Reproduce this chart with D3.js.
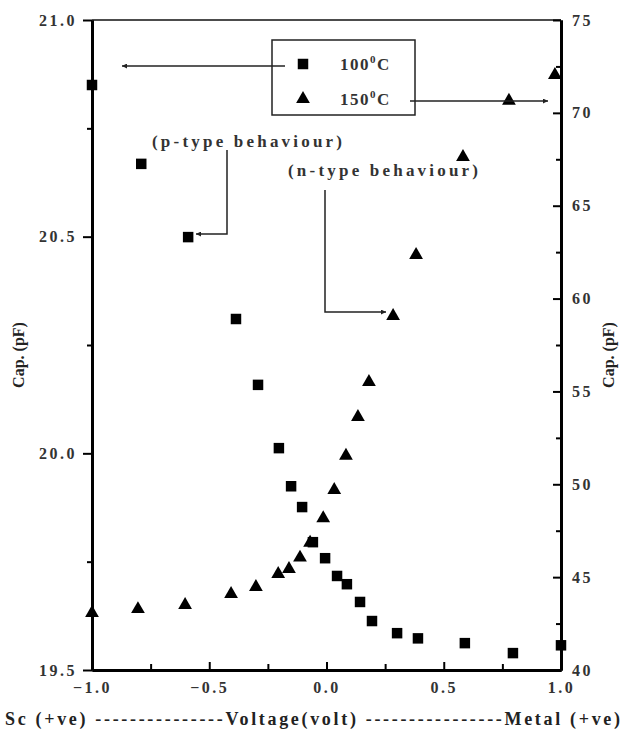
<!DOCTYPE html>
<html>
<head>
<meta charset="utf-8">
<script src="https://cdn.jsdelivr.net/npm/d3@7"></script>
<style>
  body { margin: 0; background: #fff; }
  svg text { font-family: "Liberation Serif", "DejaVu Serif", serif !important; font-weight: bold; }
</style>
</head>
<body>
<div id="chart"></div>
<script>
// 100 C series, read against the left axis
const voltage100 = [-1.0, -0.79, -0.59, -0.386, -0.292, -0.203, -0.151, -0.104, -0.058, -0.006, 0.045, 0.087, 0.143, 0.194, 0.301, 0.39, 0.59, 0.795, 1.0]
const cap100 = [20.85, 20.668, 20.499, 20.31, 20.158, 20.012, 19.924, 19.876, 19.795, 19.758, 19.717, 19.698, 19.657, 19.613, 19.585, 19.573, 19.562, 19.539, 19.557]

// 150 C series, read against the right axis
const voltage150 = [-1.0, -0.804, -0.603, -0.407, -0.301, -0.206, -0.16, -0.113, -0.07, -0.014, 0.033, 0.083, 0.134, 0.181, 0.284, 0.382, 0.582, 0.778, 0.974]
const cap150 = [43.07, 43.28, 43.5, 44.09, 44.47, 45.17, 45.44, 46.05, 46.85, 48.17, 49.69, 51.54, 53.62, 55.51, 59.06, 62.35, 67.62, 70.65, 72.04]

const xTicks = [-1.0, -0.5, 0.0, 0.5, 1.0]
const xMinor = [-0.75, -0.25, 0.25, 0.75]
const yLeftTicks = [19.5, 20.0, 20.5, 21.0]
const yLeftMinor = [19.75, 20.25, 20.75]
const yRightTicks = [40, 45, 50, 55, 60, 65, 70, 75]
const yRightMinor = [42.5, 47.5, 52.5, 57.5, 62.5, 67.5, 72.5]

const width = 626
const height = 735
const marginTop = 20
const marginLeft = 92
const plotRight = 561
const plotBottom = 670

const svg = d3.select('#chart')
              .append('svg')
              .attr('width', width)
              .attr('height', height)

svg.append('defs').append('marker')
   .attr('id', 'arrow')
   .attr('viewBox', '0 0 10 10')
   .attr('refX', 10)
   .attr('refY', 5)
   .attr('markerWidth', 8)
   .attr('markerHeight', 5)
   .attr('markerUnits', 'userSpaceOnUse')
   .attr('orient', 'auto')
   .append('path')
   .attr('d', 'M0,0 L10,5 L0,10 Z')
   .attr('fill', '#222')

const x = d3.scaleLinear()
            .domain([-1, 1])
            .range([marginLeft, plotRight])

const yLeft = d3.scaleLinear()
                .domain([19.5, 21.0])
                .range([plotBottom, marginTop])

const yRight = d3.scaleLinear()
                 .domain([40, 75])
                 .range([plotBottom, marginTop])

// top frame line
svg.append('line')
   .attr('x1', marginLeft).attr('x2', plotRight)
   .attr('y1', marginTop).attr('y2', marginTop)
   .attr('stroke', '#111')
   .attr('stroke-width', 1.6)

function styleAxis(g, lineWidth) {
  g.attr('font-size', null).attr('font-family', null)
  g.select('.domain').attr('stroke', '#000').attr('stroke-width', lineWidth)
  g.selectAll('.tick line').attr('stroke', '#000').attr('stroke-width', 2)
  g.selectAll('.tick text')
   .attr('fill', '#333')
   .style('font-size', '16px')
   .style('letter-spacing', '2.5px')
}

// left axis
svg.append('g')
   .attr('transform', `translate(${marginLeft},0)`)
   .call(d3.axisLeft(yLeft).tickValues(yLeftMinor).tickSize(5).tickSizeOuter(0).tickFormat(''))
   .call(g => styleAxis(g, 3))
svg.append('g')
   .attr('transform', `translate(${marginLeft},0)`)
   .call(d3.axisLeft(yLeft).tickValues(yLeftTicks).tickSize(9).tickSizeOuter(0).tickPadding(6).tickFormat(d3.format('.1f')))
   .call(g => styleAxis(g, 3))

// right axis, ticks inward
svg.append('g')
   .attr('transform', `translate(${plotRight},0)`)
   .call(d3.axisRight(yRight).tickValues(yRightMinor).tickSize(-5).tickSizeOuter(0).tickFormat(''))
   .call(g => styleAxis(g, 3))
svg.append('g')
   .attr('transform', `translate(${plotRight},0)`)
   .call(d3.axisRight(yRight).tickValues(yRightTicks).tickSize(-8).tickSizeOuter(0).tickPadding(11).tickFormat(d3.format('d')))
   .call(g => styleAxis(g, 3))

// bottom axis, ticks inward
svg.append('g')
   .attr('transform', `translate(0,${plotBottom})`)
   .call(d3.axisBottom(x).tickValues(xMinor).tickSize(-6).tickSizeOuter(0).tickFormat(''))
   .call(g => styleAxis(g, 3))
svg.append('g')
   .attr('transform', `translate(0,${plotBottom})`)
   .call(d3.axisBottom(x).tickValues(xTicks).tickSize(-8).tickSizeOuter(0).tickPadding(12).tickFormat(d3.format('.1f')))
   .call(g => styleAxis(g, 3))

// axis titles
svg.append('text')
   .attr('transform', 'translate(24,355) rotate(-90)')
   .attr('text-anchor', 'middle')
   .attr('fill', '#222')
   .style('font-size', '16px')
   .text('Cap. (pF)')

svg.append('text')
   .attr('transform', 'translate(614,355) rotate(-90)')
   .attr('text-anchor', 'middle')
   .attr('fill', '#222')
   .style('font-size', '16px')
   .text('Cap. (pF)')

svg.append('text')
   .attr('x', 5)
   .attr('y', 725)
   .attr('textLength', 615)
   .attr('lengthAdjust', 'spacing')
   .attr('fill', '#222')
   .style('font-size', '18px')
   .text('Sc (+ve) ---------------Voltage(volt) ----------------Metal (+ve)')

// data points
const square = d3.symbol().type(d3.symbolSquare).size(110)
const triangle = d3.symbol().type(d3.symbolTriangle).size(82)

svg.append('g')
   .selectAll('path')
   .data(voltage100.map((v, i) => ({ v, c: cap100[i] })))
   .enter().append('path')
   .attr('d', square)
   .attr('transform', d => `translate(${x(d.v)},${yLeft(d.c)})`)
   .attr('fill', '#000')

svg.append('g')
   .selectAll('path')
   .data(voltage150.map((v, i) => ({ v, c: cap150[i] })))
   .enter().append('path')
   .attr('d', triangle)
   .attr('transform', d => `translate(${x(d.v)},${yRight(d.c)})`)
   .attr('fill', '#000')

// legend
svg.append('rect')
   .attr('x', 272).attr('y', 40)
   .attr('width', 143).attr('height', 75)
   .attr('fill', 'none')
   .attr('stroke', '#222')
   .attr('stroke-width', 1.5)

svg.append('path').attr('d', square).attr('transform', 'translate(303,64)').attr('fill', '#000')
svg.append('path').attr('d', triangle).attr('transform', 'translate(303,99)').attr('fill', '#000')

const legendText = [['100', 70], ['150', 105]]
legendText.forEach(([t, yy]) => {
  const txt = svg.append('text')
                 .attr('x', 340)
                 .attr('y', yy)
                 .attr('fill', '#333')
                 .style('font-size', '17px')
                 .style('letter-spacing', '1.5px')
  txt.append('tspan').text(t)
  txt.append('tspan').attr('dy', -7).style('font-size', '11px').text('0')
  txt.append('tspan').attr('dy', 7).text('C')
})

// arrows from legend to axes
svg.append('line')
   .attr('x1', 285).attr('y1', 66)
   .attr('x2', 122).attr('y2', 66)
   .attr('stroke', '#222').attr('stroke-width', 1.5)
   .attr('marker-end', 'url(#arrow)')

svg.append('line')
   .attr('x1', 410).attr('y1', 101)
   .attr('x2', 548).attr('y2', 101)
   .attr('stroke', '#222').attr('stroke-width', 1.5)
   .attr('marker-end', 'url(#arrow)')

// annotations
svg.append('text')
   .attr('x', 152).attr('y', 147)
   .attr('textLength', 190)
   .attr('lengthAdjust', 'spacing')
   .attr('fill', '#333')
   .style('font-size', '17px')
   .text('(p-type behaviour)')

svg.append('path')
   .attr('d', 'M227,150 L227,234 L196,234')
   .attr('fill', 'none')
   .attr('stroke', '#222').attr('stroke-width', 1.5)
   .attr('marker-end', 'url(#arrow)')

svg.append('text')
   .attr('x', 288).attr('y', 176)
   .attr('textLength', 190)
   .attr('lengthAdjust', 'spacing')
   .attr('fill', '#333')
   .style('font-size', '17px')
   .text('(n-type behaviour)')

svg.append('path')
   .attr('d', 'M325,190 L325,312 L386,312')
   .attr('fill', 'none')
   .attr('stroke', '#222').attr('stroke-width', 1.5)
   .attr('marker-end', 'url(#arrow)')
</script>
</body>
</html>
